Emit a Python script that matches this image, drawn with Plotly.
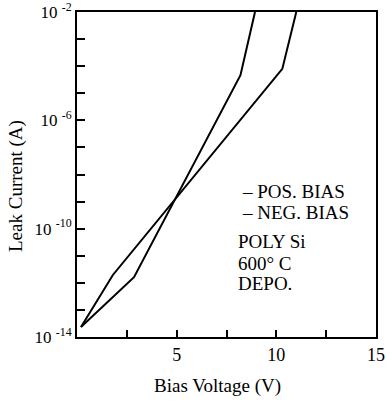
import plotly.graph_objects as go

# Data
v_a = [0.2, 1.8, 10.3, 11.0]
log_i_a = [-13.63, -11.71, -4.10, -2.0]
v_b = [0.2, 2.86, 8.2, 8.93]
log_i_b = [-13.63, -11.79, -4.33, -2.0]

x_tick_vals = [2.5, 5, 7.5, 10, 12.5, 15]
x_tick_text = ["", "5", "", "10", "", "15"]
y_tick_exps = list(range(-14, -1))
y_label_exps = [-14, -10, -6, -2]

legend_lines = ["\u2013 POS. BIAS", "\u2013 NEG. BIAS", "POLY Si", "600\u00b0 C", "DEPO."]

i_a = [10 ** e for e in log_i_a]
i_b = [10 ** e for e in log_i_b]

FONT = "Liberation Serif"
W, H = 386, 401
L, R, T, B = 77, 10, 12, 64

fig = go.Figure()
for xs, ys in [(v_a, i_a), (v_b, i_b)]:
    fig.add_trace(go.Scatter(x=xs, y=ys, mode="lines",
                             line=dict(color="black", width=2),
                             showlegend=False, hoverinfo="skip", cliponaxis=True))

y_vals = [10 ** e for e in y_tick_exps]
y_text = [("10 <sup>%d</sup>" % e if e in y_label_exps else "") for e in y_tick_exps]

fig.update_layout(
    width=W, height=H,
    margin=dict(l=L, r=R, t=T, b=B, autoexpand=False),
    paper_bgcolor="white", plot_bgcolor="white",
    font=dict(family=FONT, color="black", size=17),
    xaxis=dict(range=[0, 15], tickvals=x_tick_vals, ticktext=x_tick_text,
               ticks="inside", ticklen=7, tickwidth=1.5, tickcolor="black",
               showline=True, linecolor="black", linewidth=2, mirror=True,
               showgrid=False, zeroline=False, ticklabeloverflow="allow",
               automargin=False, tickfont=dict(family=FONT, size=18)),
    yaxis=dict(type="log", range=[-14, -2], tickvals=y_vals, ticktext=y_text,
               ticks="inside", ticklen=8, tickwidth=1.5, tickcolor="black",
               showline=True, linecolor="black", linewidth=2, mirror=True,
               showgrid=False, zeroline=False, ticklabeloverflow="allow",
               automargin=False, tickfont=dict(family=FONT, size=17)),
)

# axis titles
fig.add_annotation(text="Bias Voltage (V)", xref="paper", yref="paper",
                   x=(217 - L) / (W - L - R), y=-(386 - (H - B)) / (H - T - B),
                   showarrow=False, font=dict(family=FONT, size=19),
                   xanchor="center", yanchor="middle")
fig.add_annotation(text="Leak Current (A)", xref="paper", yref="paper",
                   x=-(L - 16) / (W - L - R), y=((H - B) - 186) / (H - T - B),
                   showarrow=False, textangle=-90, font=dict(family=FONT, size=19),
                   xanchor="center", yanchor="middle")

# legend-like text block
ys_px = [191, 212, 242, 263, 283]
xs_px = [240, 240, 236, 236, 236]
for txt, xp, yp in zip(legend_lines, xs_px, ys_px):
    fig.add_annotation(text=txt, xref="paper", yref="paper",
                       x=(xp - L) / (W - L - R), y=((H - B) - yp) / (H - T - B),
                       showarrow=False, font=dict(family=FONT, size=19),
                       xanchor="left", yanchor="middle")

fig.write_html("out.html", config={"displayModeBar": False},
               post_script="document.body.style.margin='0';document.body.style.overflow='hidden';")
